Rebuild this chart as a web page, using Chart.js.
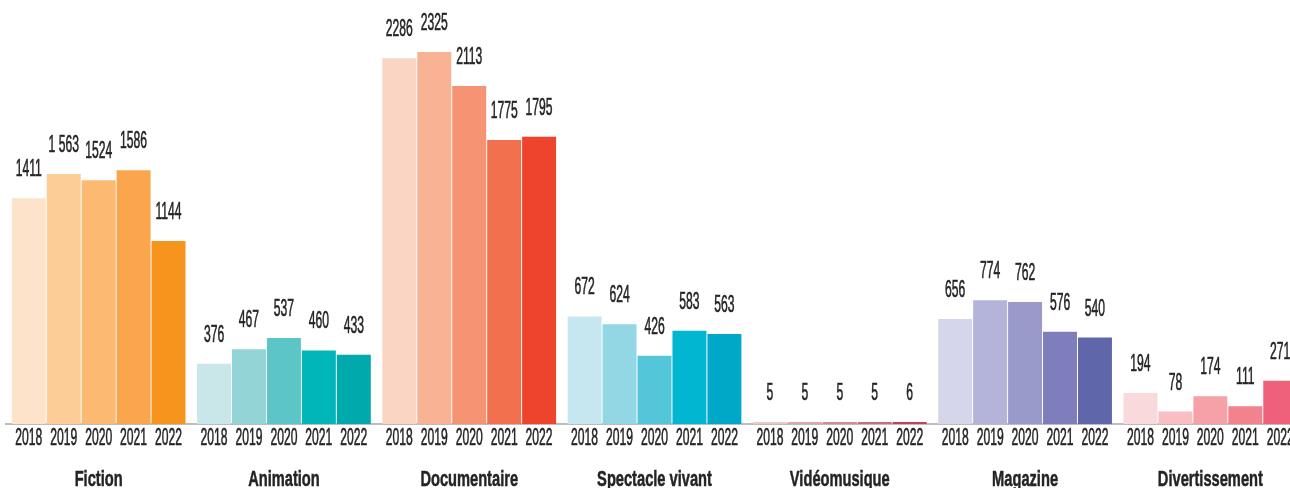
<!DOCTYPE html>
<html lang="fr">
<head>
<meta charset="utf-8">
<title>Volumes par genre, 2018-2022</title>
<script src="https://cdn.jsdelivr.net/npm/chart.js@4/dist/chart.umd.min.js"></script>
<style>
  html, body { margin: 0; padding: 0; background: #ffffff; overflow: hidden; }
  #wrap { width: 1310px; height: 488px; }
</style>
</head>
<body>
<div id="wrap"><canvas id="chart" width="1310" height="488"></canvas></div>
<script>
// Genres (one group of bars each) and the years shown inside every group
const genres = ['Fiction', 'Animation', 'Documentaire', 'Spectacle vivant', 'Vidéomusique', 'Magazine', 'Divertissement'];
const years = ['2018', '2019', '2020', '2021', '2022'];

// Values per genre, 2018 → 2022
const fiction        = [1411, 1563, 1524, 1586, 1144];
const animation      = [376, 467, 537, 460, 433];
const documentaire   = [2286, 2325, 2113, 1775, 1795];
const spectacle      = [672, 624, 426, 583, 563];
const videomusique   = [5, 5, 5, 5, 6];
const magazine       = [656, 774, 762, 576, 540];
const divertissement = [194, 78, 174, 111, 271];

const seriesByGenre = [fiction, animation, documentaire, spectacle, videomusique, magazine, divertissement];

// Colour ramps, light (2018) to dark (2022), one per genre
const palettes = [
  ['#FDE3C9', '#FDCD98', '#FBB972', '#F9A64C', '#F7941E'],
  ['#C9E7E8', '#93D4D6', '#5BC5C7', '#00B6B9', '#00A9AC'],
  ['#FBD5C3', '#F9B294', '#F69372', '#F2704D', '#EF442C'],
  ['#C6E7F0', '#93D7E5', '#53C6DA', '#00B6D1', '#00A8C7'],
  ['#E9C9CA', '#D9A7AB', '#CD8E96', '#C4707F', '#C3435D'],
  ['#D6D6EA', '#B4B4DA', '#9A9ACA', '#7D7EBB', '#5F66AA'],
  ['#FAD9DC', '#F8BEC2', '#F5A1A7', '#F2828E', '#EF617A']
];

// Fiction figures keep the thousands spacing used in the source
const fictionText = ['1411', '1 563', '1524', '1586', '1144'];

const datasets = years.map((yr, y) => ({
  label: yr,
  data: seriesByGenre.map(s => s[y]),
  backgroundColor: palettes.map(p => p[y]),
  borderWidth: 0,
  barPercentage: 0.972,
  categoryPercentage: 0.943,
  minBarLength: 2
}));

const TEXT = '#262324';
const FONT_NUM = '23px "Liberation Sans Narrow", "Liberation Sans", Arial, sans-serif';
const FONT_GENRE = 'bold 22px "Liberation Sans Narrow", "Liberation Sans", Arial, sans-serif';

// Draws text squeezed horizontally to imitate a condensed face,
// with a hairline stroke to give it a little more weight
function condensed(ctx, text, x, y, sx, stroke) {
  ctx.save();
  ctx.translate(x, y);
  ctx.scale(sx, 1);
  ctx.fillText(text, 0, 0);
  if (stroke) {
    ctx.lineWidth = stroke;
    ctx.strokeText(text, 0, 0);
  }
  ctx.restore();
}

const labelsPlugin = {
  id: 'groupLabels',
  afterDatasetsDraw(chart) {
    const ctx = chart.ctx;
    const area = chart.chartArea;
    ctx.save();
    ctx.fillStyle = TEXT;
    ctx.strokeStyle = TEXT;
    ctx.textAlign = 'center';
    ctx.textBaseline = 'alphabetic';

    ctx.font = FONT_NUM;
    const sxNum = 27 / ctx.measureText('2018').width;

    chart.data.datasets.forEach((ds, d) => {
      const meta = chart.getDatasetMeta(d);
      meta.data.forEach((bar, g) => {
        const v = ds.data[g];
        const txt = g === 0 ? fictionText[d] : String(v);
        // value above the bar
        condensed(ctx, txt, bar.x, bar.y - 22, sxNum, 0.6);
        // year under the axis
        condensed(ctx, years[d], bar.x, area.bottom + 21, sxNum, 0.6);
      });
    });

    ctx.font = FONT_GENRE;
    const sxGenre = 48 / ctx.measureText('Fiction').width;
    const xScale = chart.scales.x;
    genres.forEach((name, i) => {
      condensed(ctx, name, xScale.getPixelForValue(i), area.bottom + 62, sxGenre, 0.5);
    });
    ctx.restore();
  }
};

new Chart(document.getElementById('chart'), {
  type: 'bar',
  data: { labels: genres, datasets },
  options: {
    responsive: false,
    animation: false,
    devicePixelRatio: 1,
    layout: { padding: { left: 6, right: 7, top: 0, bottom: 56 } },
    plugins: { legend: { display: false }, tooltip: { enabled: false } },
    scales: {
      x: {
        grid: { display: false },
        ticks: { display: false },
        border: { display: true, color: '#bcbcbc', width: 2 }
      },
      y: {
        display: false,
        min: 0,
        max: 2650
      }
    }
  },
  plugins: [labelsPlugin]
});
</script>
</body>
</html>
